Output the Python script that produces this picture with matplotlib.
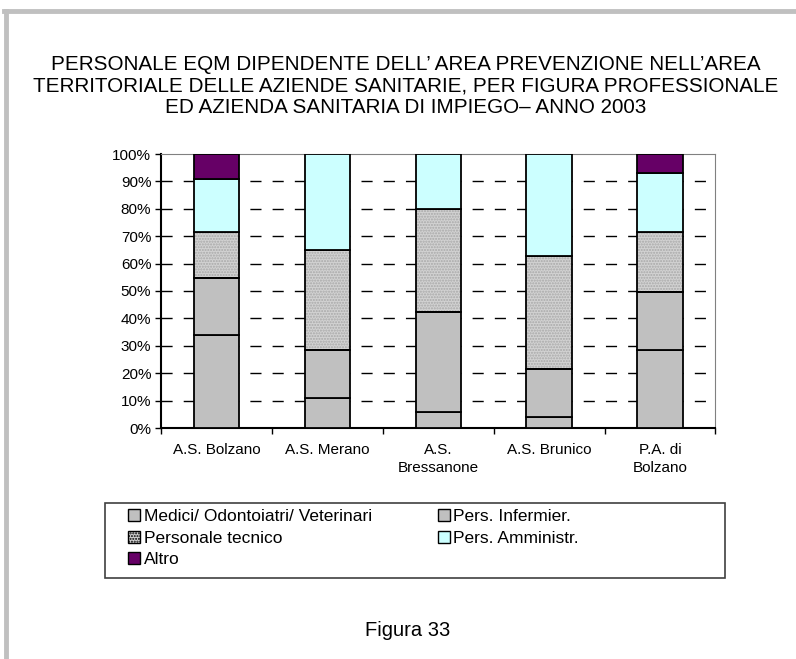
import numpy as np
import matplotlib
matplotlib.use("Agg")
import matplotlib.pyplot as plt
from matplotlib.patches import Patch, Rectangle
from matplotlib.lines import Line2D

plt.rcParams['font.family'] = ['Liberation Sans', 'DejaVu Sans']

# dati (percentuali)
aziende = ['A.S. Bolzano', 'A.S. Merano', 'A.S.\nBressanone', 'A.S. Brunico', 'P.A. di\nBolzano']
medici = [33.9, 10.8, 6.0, 3.9, 28.5]
infermier = [20.7, 17.7, 36.2, 17.8, 21.3]
tecnico = [17.0, 36.5, 37.8, 41.1, 21.8]
amministr = [19.3, 35.0, 20.0, 37.2, 21.4]
altro = [9.1, 0.0, 0.0, 0.0, 7.0]

serie = ['Medici/ Odontoiatri/ Veterinari', 'Pers. Infermier.', 'Personale tecnico',
         'Pers. Amministr.', 'Altro']
colori = ['#C0C0C0', '#C0C0C0', '#D2D2D2', '#CCFFFF', '#660066']

fig = plt.figure(figsize=(7.96, 6.59), dpi=100)

# cornice grigia della pagina
fig.add_artist(Line2D([4 / 796, 1], [1 - 11 / 659, 1 - 11 / 659], color='#C0C0C0', lw=3.5,
                      transform=fig.transFigure))
fig.add_artist(Line2D([6 / 796, 6 / 796], [0, 1 - 11 / 659], color='#C0C0C0', lw=3.5,
                      transform=fig.transFigure))

title = ("PERSONALE EQM DIPENDENTE DELL\u2019 AREA PREVENZIONE NELL\u2019AREA\n"
         "TERRITORIALE DELLE AZIENDE SANITARIE, PER FIGURA PROFESSIONALE\n"
         "ED AZIENDA SANITARIA DI IMPIEGO\u2013 ANNO 2003")
fig.text(0.51, 1 - 86 / 659, title, ha='center', va='center', fontsize=14.9,
         linespacing=1.17)
fig.text(0.512, 1 - 630 / 659, 'Figura 33', ha='center', va='center', fontsize=14.5)

ax = fig.add_axes([161 / 796, 1 - 428 / 659, (715.5 - 161) / 796, (428 - 154) / 659])
x = np.arange(len(aziende))
w = 0.41

bottom = np.zeros(len(aziende))
valori = [medici, infermier, tecnico, amministr, altro]
for i, (vals, col) in enumerate(zip(valori, colori)):
    vals = np.array(vals)
    if i == 2:
        ax.bar(x, vals, w, bottom=bottom, color=col, hatch='......', edgecolor='#A8A8A8',
               linewidth=0, zorder=3)
        ax.bar(x, vals, w, bottom=bottom, fill=False, edgecolor='black', linewidth=1.3, zorder=4)
    else:
        mask = vals > 0
        ax.bar(x[mask], vals[mask], w, bottom=bottom[mask], color=col, edgecolor='black',
               linewidth=1.3, zorder=4)
    bottom += vals

ax.set_xlim(-0.5, len(aziende) - 0.5)
ax.set_ylim(0, 100)
ax.set_yticks(np.arange(0, 101, 10))
ax.set_yticklabels([f'{v}%' for v in range(0, 101, 10)], fontsize=11)
ax.set_xticks(x)
ax.set_xticklabels(aziende, fontsize=11, linespacing=1.35)
ax.set_xticks(np.arange(-0.5, len(aziende), 1), minor=True)
ax.tick_params(axis='x', which='major', length=0, pad=11)
ax.tick_params(axis='x', which='minor', length=4, direction='out', width=1)
ax.tick_params(axis='y', length=4, direction='out', width=1, pad=3)

for yv in range(10, 100, 10):
    ax.axhline(yv, color='black', lw=1, linestyle=(0, (8, 8)), zorder=1)

ax.spines['left'].set_linewidth(1.5)
ax.spines['bottom'].set_linewidth(1.5)
ax.spines['top'].set_color('#808080')
ax.spines['right'].set_color('#808080')

# riquadro della legenda
fig.add_artist(Rectangle((105 / 796, 1 - 578 / 659), (725 - 105) / 796, (578 - 503) / 659,
                         transform=fig.transFigure, fill=False, edgecolor='#404040', lw=1.2))

handles = [Patch(facecolor=colori[0], edgecolor='black'),
           Patch(facecolor=colori[2], edgecolor='black', hatch='......'),
           Patch(facecolor=colori[4], edgecolor='black'),
           Patch(facecolor=colori[1], edgecolor='black'),
           Patch(facecolor=colori[3], edgecolor='black')]
labels = [serie[0], serie[2], serie[4], serie[1], serie[3]]
leg = fig.legend(handles, labels, ncol=2, loc='upper left',
                 bbox_to_anchor=(128 / 796, 1 - 509 / 659),
                 fontsize=12.5, frameon=False,
                 handlelength=0.7, handleheight=0.7, handletextpad=0.2,
                 labelspacing=0.37, borderaxespad=0, borderpad=0, columnspacing=3.8)

fig.savefig('out.png', dpi=100)
